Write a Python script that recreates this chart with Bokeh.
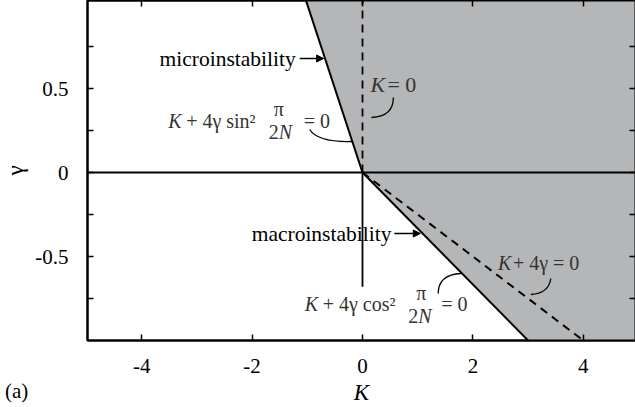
from bokeh.plotting import figure
from bokeh.models import (Range1d, LinearAxis, FixedTicker, Label, Arrow, NormalHead, Span, Div)
from bokeh.layouts import column
from bokeh.embed import file_html
from bokeh.resources import INLINE

# ---------------- data ----------------
K_ticks = [-4, -2, 0, 2, 4]
K_tick_labels = {-4: "-4", -2: "-2", 0: "0", 2: "2", 4: "4"}
gamma_ticks = [-0.75, -0.5, -0.25, 0, 0.25, 0.5, 0.75]
gamma_tick_labels = {-0.75: "", -0.5: "-0.5", -0.25: "", 0: "0", 0.25: "", 0.5: "0.5", 0.75: ""}

# microinstability boundary  K + 4 gamma sin^2(pi/2N) = 0  (N = 3)
micro_K = [0.0, -1.1]
micro_gamma = [0.0, 1.1]
# macroinstability boundary  K + 4 gamma cos^2(pi/2N) = 0
macro_K = [0.0, 3.0]
macro_gamma = [0.0, -1.0]
# K + 4 gamma = 0 (dashed)
k4_K = [0.0, 4.0]
k4_gamma = [0.0, -1.0]
# K = 0 (dashed, upper half) and solid (lower half)
k0_dash_K = [0.0, 0.0]
k0_dash_gamma = [0.0, 1.1]
k0_solid_K = [0.0, 0.0]
k0_solid_gamma = [0.0, -0.68]
# shaded (unstable) region
shade_K = [-1.1, 0.0, 3.0, 5.5, 5.5]
shade_gamma = [1.1, 0.0, -1.0, -1.0, 1.1]

# --------------- helpers for annotation placement ---------------
SX, SY = 55.4, 168.0
X0, Y0 = 361.0, 172.0          # pixel of K = 0, gamma = 0
def at(px, py):
    return (px - X0) / SX, (Y0 - py) / SY

FONT = "Liberation Serif"
W, H = 635, 407
LEFT, BOTTOM = 85, 340          # frame edges in pixels

p = figure(width=W, height=H,
           x_range=Range1d(-(X0 - LEFT) / SX, (W - X0) / SX),
           y_range=Range1d(-(BOTTOM - Y0) / SY, Y0 / SY),
           output_backend="svg", toolbar_location=None,
           min_border_left=LEFT, min_border_right=0, min_border_top=0,
           min_border_bottom=H - BOTTOM,
           x_axis_label="K", y_axis_label="γ")
p.grid.visible = False
p.outline_line_color = "black"
p.outline_line_width = 2
p.background_fill_color = "white"
p.border_fill_color = "white"

for ax in (p.xaxis[0], p.yaxis[0]):
    ax.axis_line_width = 2
    ax.axis_line_color = "black"
    ax.major_tick_in = 6
    ax.major_tick_out = 0
    ax.major_tick_line_width = 1.5
    ax.minor_tick_line_color = None
    ax.major_label_text_font = FONT
    ax.major_label_text_font_size = "21px"
    ax.major_label_text_color = "black"
    ax.axis_label_text_font = FONT
    ax.axis_label_text_font_size = "23px"
    ax.axis_label_text_color = "black"

p.xaxis[0].ticker = FixedTicker(ticks=K_ticks)
p.xaxis[0].major_label_overrides = K_tick_labels
p.xaxis[0].major_label_standoff = 18
p.xaxis[0].axis_label_standoff = 4
p.xaxis[0].axis_label_text_font_style = "italic"
p.yaxis[0].ticker = FixedTicker(ticks=gamma_ticks)
p.yaxis[0].major_label_overrides = gamma_tick_labels
p.yaxis[0].major_label_standoff = 19
p.yaxis[0].axis_label_standoff = 4
p.yaxis[0].axis_label_text_font_style = "normal"

top = LinearAxis(ticker=FixedTicker(ticks=K_ticks), major_label_text_font_size="0px",
                 major_tick_in=6, major_tick_out=0, major_label_standoff=0,
                 axis_line_width=2, major_tick_line_width=1.5, minor_tick_line_color=None)
right = LinearAxis(ticker=FixedTicker(ticks=gamma_ticks), major_label_text_font_size="0px",
                   major_tick_in=6, major_tick_out=0, major_label_standoff=0,
                   axis_line_width=2, major_tick_line_width=1.5, minor_tick_line_color=None)
p.add_layout(top, "above")
p.add_layout(right, "right")

# shaded region
p.patch(shade_K, shade_gamma, fill_color="#b5b6b8", line_color=None)

# zero lines
p.add_layout(Span(location=0, dimension="width", line_color="black", line_width=1.8))
p.line(k0_solid_K, k0_solid_gamma, line_color="black", line_width=1.8)
p.line(k0_dash_K, k0_dash_gamma, line_color="black", line_width=1.8, line_dash="8 6")

# boundaries
p.line(micro_K, micro_gamma, line_color="black", line_width=2)
p.line(macro_K, macro_gamma, line_color="black", line_width=2)
p.line(k4_K, k4_gamma, line_color="black", line_width=2, line_dash="8 6")

def lab(text, px, py, align="left", italic=False, size="20px", color="black"):
    x, y = at(px, py)
    p.add_layout(Label(x=x, y=y, text=text, text_align=align, text_baseline="middle",
                       text_font=FONT, text_font_size=size, text_color=color,
                       text_font_style="italic" if italic else "normal"))

def curve(p0, p1, c):
    x0, y0 = at(*p0); x1, y1 = at(*p1); cx, cy = at(*c)
    p.quadratic(x0=[x0], y0=[y0], x1=[x1], y1=[y1], cx=[cx], cy=[cy],
                line_color="black", line_width=1.3)

def arrow(p0, p1):
    x0, y0 = at(*p0); x1, y1 = at(*p1)
    p.add_layout(Arrow(end=NormalHead(size=7, fill_color="black", line_color="black"),
                       x_start=x0, y_start=y0, x_end=x1, y_end=y1,
                       line_color="black", line_width=1.3))

# microinstability
lab("microinstability", 294, 58, align="right", size="21.5px")
arrow((298, 58), (322, 58))
# macroinstability
lab("macroinstability", 390, 233, align="right", size="21.5px")
arrow((393, 233), (419, 233))

FC = "#333333"
# K + 4 gamma sin^2 pi/2N = 0
lab("K", 166, 120, italic=True, color=FC)
lab("+ 4γ sin²", 184, 120, color=FC)
lab("π", 277, 108, align="center", color=FC)
lab("2", 267, 131, color=FC)
lab("N", 277, 131, italic=True, color=FC)
lab("= 0", 302, 120, color=FC)
curve((308, 129), (351, 141), (316, 142))

# K = 0
lab("K", 369, 84, italic=True, size="22px", color=FC)
lab("= 0", 386, 84, size="22px", color=FC)
curve((392, 97), (370, 117), (392, 116))

# K + 4 gamma = 0
lab("K", 497, 262, italic=True, color=FC)
lab("+ 4γ =  0", 512, 262, color=FC)
curve((550, 278), (530, 294), (548, 293))

# K + 4 gamma cos^2 pi/2N = 0
lab("K", 303, 303, italic=True, color=FC)
lab("+ 4γ cos²", 321, 303, color=FC)
lab("π", 420, 292, align="center", color=FC)
lab("2", 407, 315, color=FC)
lab("N", 417, 315, italic=True, color=FC)
lab("= 0", 440, 303, color=FC)
curve((437, 293), (460, 273), (437, 274))

# panel tag "(a)" sits outside the frame, so it is a small text element under the plot
tag = Div(text="(a)", width=40, height=24,
          styles={"font-family": FONT, "font-size": "21px", "color": "black",
                  "line-height": "24px", "margin-top": "-28px", "margin-left": "5px"})

layout = column(p, tag, spacing=0)
open("out.html", "w").write(file_html(layout, INLINE))
